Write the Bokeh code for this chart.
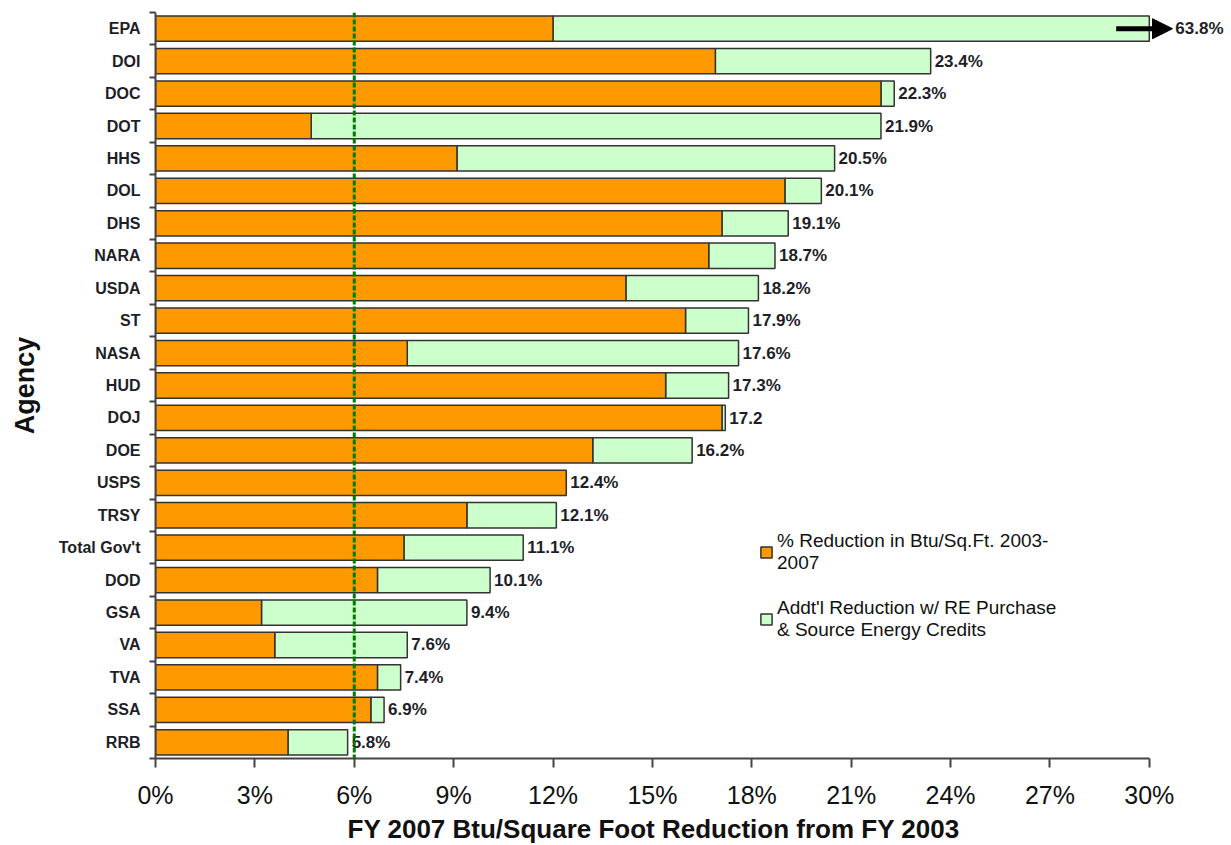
import numpy as np
from bokeh.plotting import figure
from bokeh.models import (ColumnDataSource, Range1d, FixedTicker, PrintfTickFormatter,
                          Span, Arrow, NormalHead, Legend, LegendItem, Title)
from bokeh.core.properties import value
from bokeh.embed import file_html
from bokeh.resources import INLINE

# ---------------- data ----------------
agencies = ["EPA", "DOI", "DOC", "DOT", "HHS", "DOL", "DHS", "NARA", "USDA", "ST", "NASA",
            "HUD", "DOJ", "DOE", "USPS", "TRSY", "Total Gov't", "DOD", "GSA", "VA", "TVA",
            "SSA", "RRB"]
btu_reduction = [12.0, 16.9, 21.9, 4.7, 9.1, 19.0, 17.1, 16.7, 14.2, 16.0, 7.6,
                 15.4, 17.1, 13.2, 12.4, 9.4, 7.5, 6.7, 3.2, 3.6, 6.7, 6.5, 4.0]
total_reduction = [63.8, 23.4, 22.3, 21.9, 20.5, 20.1, 19.1, 18.7, 18.2, 17.9, 17.6,
                   17.3, 17.2, 16.2, 12.4, 12.1, 11.1, 10.1, 9.4, 7.6, 7.4, 6.9, 5.8]
total_labels = ["63.8%", "23.4%", "22.3%", "21.9%", "20.5%", "20.1%", "19.1%", "18.7%",
                "18.2%", "17.9%", "17.6%", "17.3%", "17.2", "16.2%", "12.4%", "12.1%",
                "11.1%", "10.1%", "9.4%", "7.6%", "7.4%", "6.9%", "5.8%"]
x_ticks = [0, 3, 6, 9, 12, 15, 18, 21, 24, 27, 30]
goal_pct = 6
axis_max = 30
x_title = "FY 2007 Btu/Square Foot Reduction from FY 2003"
y_title = "Agency"

# ---------------- derived ----------------
n = len(agencies)
ypos = list(range(n))
shown_total = [min(t, axis_max) for t in total_reduction]
label_x = [min(t, axis_max) for t in total_reduction]
label_off = [26 if t > axis_max else 4 for t in total_reduction]

src = ColumnDataSource(dict(y=ypos, agency=agencies, btu=btu_reduction,
                            total=shown_total, lab=total_labels, lx=label_x, loff=label_off))

FONT = "Liberation Sans"
ORANGE = "#FF9900"
GREEN = "#CCFFCC"
EDGE = "#333333"

p = figure(width=1225, height=845, output_backend="svg", toolbar_location=None,
           x_range=Range1d(0, 32.3), y_range=Range1d(n - 0.5, -0.5),
           min_border_left=155, min_border_right=0, min_border_top=12, min_border_bottom=87)
p.outline_line_color = None
p.xgrid.visible = False
p.ygrid.visible = False
p.background_fill_color = "white"

green_r = p.hbar(y="y", left="btu", right="total", height=0.78, source=src,
                 fill_color=GREEN, line_color=EDGE, line_width=1.5)
orange_r = p.hbar(y="y", left=0, right="btu", height=0.78, source=src,
                  fill_color=ORANGE, line_color=EDGE, line_width=1.5)

p.text(x="lx", y="y", text="lab", source=src, x_offset="loff",
       text_font=value(FONT), text_font_style="bold", text_font_size="17px",
       text_color="#1e1e28", text_baseline="middle", text_align="left")

p.add_layout(Span(location=goal_pct, dimension="height", line_color="#007a00",
                  line_width=3, line_dash="5 2"))

# overflow arrow for the clipped bar
p.add_layout(Arrow(end=NormalHead(size=20, fill_color="black", line_color="black"),
                   x_start=axis_max - 1.0, x_end=axis_max + 0.7, y_start=0, y_end=0,
                   line_width=5, line_color="black"))

# x axis
xa = p.xaxis[0]
xa.ticker = FixedTicker(ticks=x_ticks, minor_ticks=[])
xa.formatter = PrintfTickFormatter(format="%d%%")
xa.bounds = (0, axis_max)
xa.axis_line_color = "#444444"
xa.axis_line_width = 2
xa.major_tick_line_color = "#444444"
xa.major_tick_line_width = 2
xa.major_tick_out = 9
xa.major_tick_in = 0
xa.major_label_text_font = FONT
xa.major_label_text_font_size = "25px"
xa.major_label_text_color = "#111111"
xa.major_label_standoff = 13

# x-axis title, centred under the 0-30% span of the axis
p.add_layout(Title(text=x_title, align="left", offset=192, standoff=0,
                   text_font=FONT, text_font_style="bold", text_font_size="26px",
                   text_color="#111111"), "below")

# y axis
ya = p.yaxis[0]
ya.ticker = FixedTicker(ticks=ypos, minor_ticks=[i - 0.5 for i in range(n + 1)])
ya.major_label_overrides = {i: a for i, a in zip(ypos, agencies)}
ya.axis_line_color = "#444444"
ya.axis_line_width = 2
ya.major_tick_out = 0
ya.major_tick_in = 0
ya.minor_tick_out = 6
ya.minor_tick_in = 0
ya.minor_tick_line_color = "#444444"
ya.minor_tick_line_width = 2
ya.major_label_standoff = 9
ya.major_label_text_font = FONT
ya.major_label_text_font_style = "bold"
ya.major_label_text_font_size = "16px"
ya.major_label_text_color = "#1e1e28"
ya.axis_label = y_title
ya.axis_label_text_font = FONT
ya.axis_label_text_font_style = "bold"
ya.axis_label_text_font_size = "27px"
ya.axis_label_text_color = "#111111"
ya.axis_label_standoff = 16

legend = Legend(items=[
    LegendItem(label="% Reduction in Btu/Sq.Ft. 2003-\n2007", renderers=[orange_r]),
    LegendItem(label="Addt'l Reduction w/ RE Purchase\n& Source Energy Credits", renderers=[green_r]),
], location=(604, 117))
legend.border_line_color = None
legend.background_fill_alpha = 0
legend.label_text_font = FONT
legend.label_text_font_size = "19px"
legend.label_text_line_height = 1.15
legend.label_text_color = "#111111"
legend.glyph_width = 14
legend.glyph_height = 14
legend.spacing = 23
legend.padding = 0
legend.margin = 0
legend.label_standoff = 4
p.add_layout(legend, "center")

open("out.html", "w").write(file_html(p, INLINE))
